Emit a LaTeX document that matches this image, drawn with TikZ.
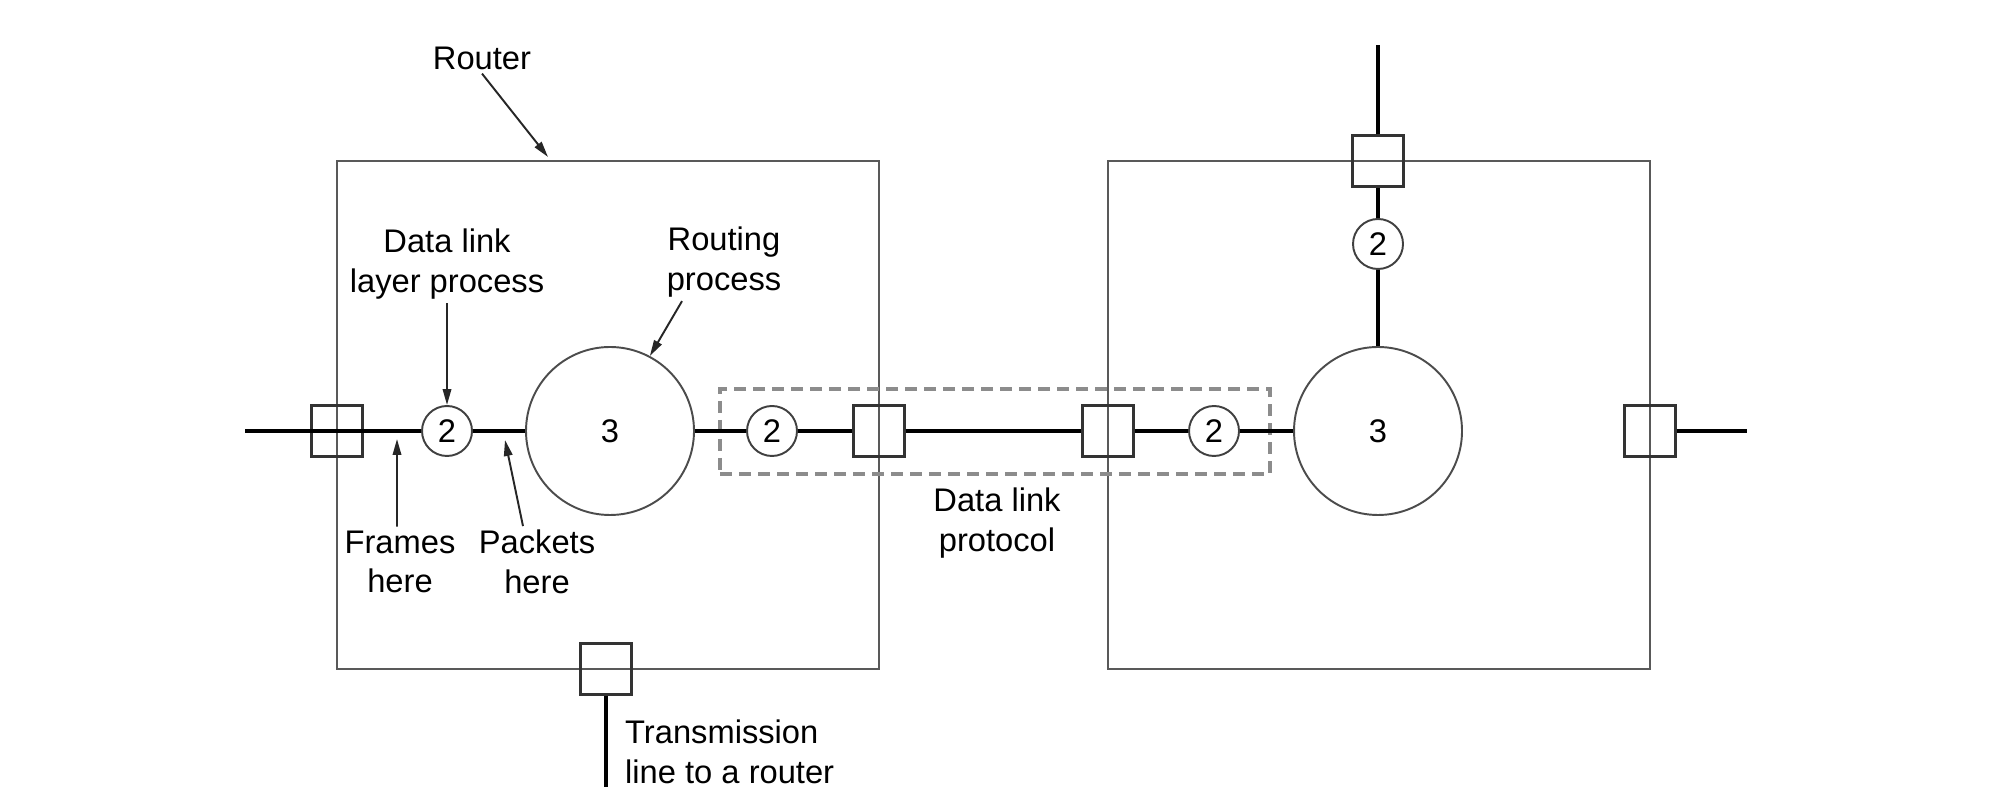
\documentclass[tikz,border=0pt]{standalone}
\usepackage{fontspec}
\setmainfont{Liberation Sans}
\usepackage{tikz}
\usetikzlibrary{arrows.meta}
\usetikzlibrary{positioning}
\tikzset{router/.style={draw=black!65, line width=0.75pt, minimum width=5.42cm,
    minimum height=5.08cm, inner sep=0pt}}

\begin{document}
\begin{tikzpicture}[font=\fontsize{9.3}{11.2}\selectfont,
    port/.style={draw=black!80, line width=0.6pt, minimum size=0.51cm, inner sep=0pt},
    dll/.style={circle, draw=black!75, line width=0.55pt, minimum size=0.5cm, inner sep=0pt},
    rtp/.style={circle, draw=black!70, line width=0.55pt, minimum size=1.68cm, inner sep=0pt},
    wire/.style={line width=1pt},
    lbl/.style={align=center, inner sep=1pt},
    ptr/.style={-{Triangle[length=1.6mm,width=0.85mm]}, line width=0.55pt, draw=black!85},
    protobox/.style={draw=black!45, line width=1pt, dash pattern=on 1.2mm off 0.7mm,
      minimum width=5.5cm, minimum height=0.85cm, inner sep=0pt}]
  \useasboundingbox (0,0) rectangle (19.9,8);
  % the two routers
  \node[router] (routerL) at (6.08,3.85) {};
  \node[router] (routerR) at (13.79,3.85) {};
  \node[protobox] (proto) at (9.95,3.685) {};
  % processes
  \node[dll] (dllA) at (4.47,3.69) {2};
  \node[rtp] (rtA) at (6.10,3.69) {3};
  \node[dll] (dllB) at (7.72,3.69) {2};
  \node[dll] (dllC) at (12.14,3.69) {2};
  \node[rtp] (rtB) at (13.78,3.69) {3};
  \node[dll] (dllD) at (13.78,5.56) {2};
  % ports on the router walls
  \node[port] (portA) at (3.37,3.69) {};
  \node[port] (portB) at (8.79,3.69) {};
  \node[port] (portC) at (11.08,3.69) {};
  \node[port] (portD) at (13.78,6.39) {};
  \node[port] (portE) at (16.50,3.69) {};
  \node[port] (portF) at (6.06,1.31) {};
  \coordinate (lineW) at (2.45,3.69);
  \coordinate (lineE) at (17.47,3.69);
  \coordinate (lineN) at (13.78,7.55);
  \coordinate (lineS) at (6.06,0.13);
  % transmission lines
  \draw[wire] (lineW) -- (dllA);
  \draw[wire] (dllA) -- (rtA);
  \draw[wire] (rtA) -- (dllB) -- (portB);
  \draw[wire] (portB) -- (portC);
  \draw[wire] (portC) -- (dllC) -- (rtB);
  \draw[wire] (rtB) -- (dllD) -- (portD);
  \draw[wire] (portD) -- (lineN);
  \draw[wire] (portE) -- (lineE);
  \draw[wire] (portF) -- (lineS);
  % labels
  \node[lbl] (rtrlbl) at (4.82,7.42) {Router};
  \node[lbl] (dlllbl) at (4.47,5.36) {Data link\\layer process};
  \node[lbl] (rtplbl) at (7.24,5.38) {Routing\\process};
  \node[lbl] (frlbl) at (4.00,2.38) {Frames\\here};
  \node[lbl] (pklbl) at (5.37,2.38) {Packets\\here};
  \node[lbl] (protolbl) at (9.97,2.77) {Data link\\protocol};
  \node[lbl, align=left, anchor=west] (txlbl) at (6.21,0.48) {Transmission\\line to a router};
  \coordinate (rtrtip) at (5.48,6.43);
  \coordinate (frtip) at (3.97,3.61);
  \coordinate (pktip) at (5.05,3.60);
  \draw[ptr] (rtrlbl.south) -- (rtrtip);
  \draw[ptr] (dlllbl.south) -- (dllA.north);
  \draw[ptr] ([xshift=-4.2mm]rtplbl.south) -- (rtA.62);
  \draw[ptr] ([xshift=-0.3mm]frlbl.north) -- (frtip);
  \draw[ptr] ([xshift=-1.4mm]pklbl.north) -- (pktip);
\end{tikzpicture}
\end{document}
